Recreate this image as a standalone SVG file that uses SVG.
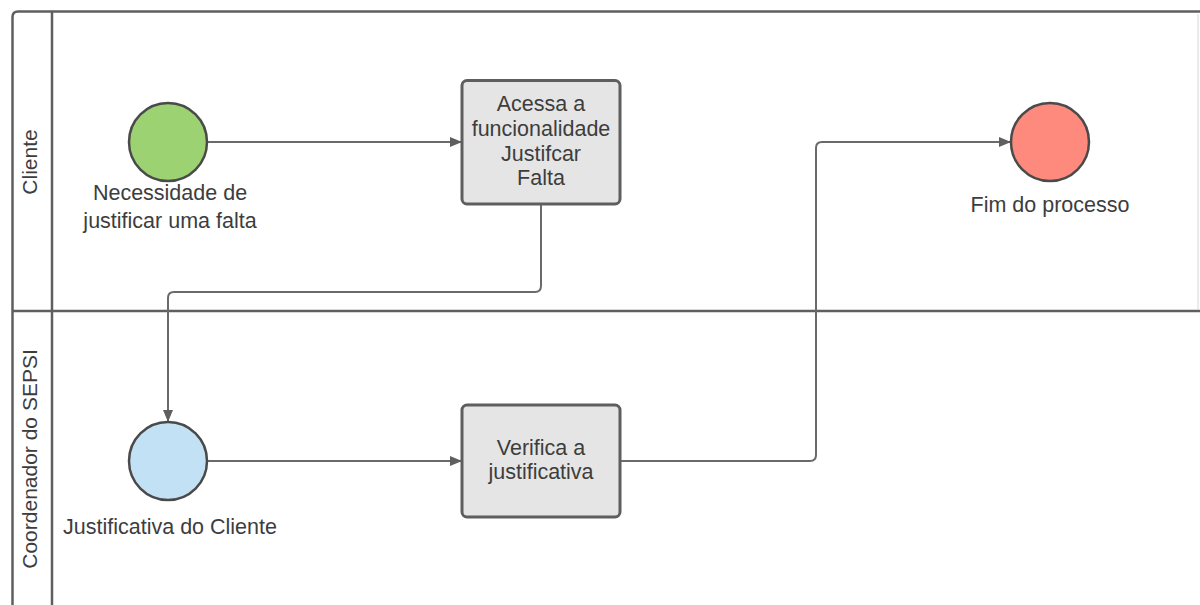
<svg xmlns="http://www.w3.org/2000/svg" width="1200" height="605" viewBox="0 0 1200 605">
<defs>
<style>
.pool{fill:none;stroke:#5f5f5f;stroke-width:2.5}
.lbl{font-family:"Liberation Sans",Arial,sans-serif;font-size:21.5px;fill:#3d3d3d;text-anchor:middle}
.lane{font-size:21px}
.ev{stroke:#4a4a4a;stroke-width:2.5}
.task{fill:#e5e5e5;stroke:#5e5e5e;stroke-width:3}
.conn{fill:none;stroke:#6a6a6a;stroke-width:2}
</style>
<marker id="arr" viewBox="0 0 12 10" refX="11" refY="5" markerWidth="12" markerHeight="10" markerUnits="userSpaceOnUse" orient="auto">
<path d="M0,0 L12,5 L0,10 Z" fill="#5f5f5f"/>
</marker>
</defs>
<rect width="1200" height="605" fill="#ffffff"/>
<g id="pool">
<path class="pool" d="M1200,11.5 H18 Q12.5,11.5 12.5,17 V605"/>
<line class="pool" x1="52" y1="11.5" x2="52" y2="605"/>
<line class="pool" x1="12.5" y1="311" x2="1200" y2="311"/>
<line x1="1198" y1="14" x2="1198" y2="309" stroke="#e4e4e4" stroke-width="1.5"/>
<text class="lbl lane" transform="translate(37,162) rotate(-90)">Cliente</text>
<text class="lbl lane" transform="translate(37,459) rotate(-90)">Coordenador do SEPSI</text>
</g>
<g id="connectors">
<path class="conn" d="M208,142 H461" marker-end="url(#arr)"/>
<path class="conn" d="M541,205 V286 Q541,292 535,292 H174 Q168,292 168,298 V421" marker-end="url(#arr)"/>
<path class="conn" d="M208,461 H461" marker-end="url(#arr)"/>
<path class="conn" d="M621,461 H810 Q816,461 816,455 V148 Q816,142 822,142 H1010" marker-end="url(#arr)"/>
</g>
<g id="start">
<circle class="ev" cx="168" cy="142" r="39" fill="#9cd272"/>
<text class="lbl" x="170" y="199.5">Necessidade de</text>
<text class="lbl" x="170" y="227.5">justificar uma falta</text>
</g>
<g id="task1">
<rect class="task" x="462" y="80.5" width="158" height="123.5" rx="5"/>
<text class="lbl" x="541" y="110.5">Acessa a</text>
<text class="lbl" x="541" y="135.5">funcionalidade</text>
<text class="lbl" x="541" y="160.5">Justifcar</text>
<text class="lbl" x="541" y="184.5">Falta</text>
</g>
<g id="receive">
<circle class="ev" cx="168" cy="461" r="39" fill="#c3e1f4"/>
<text class="lbl" x="170" y="533.5">Justificativa do Cliente</text>
</g>
<g id="task2">
<rect class="task" x="462" y="405" width="158" height="112" rx="5"/>
<text class="lbl" x="541" y="454.5">Verifica a</text>
<text class="lbl" x="541" y="478.5">justificativa</text>
</g>
<g id="end">
<circle class="ev" cx="1050" cy="142" r="39" fill="#fe8a7e"/>
<text class="lbl" x="1050" y="211.5">Fim do processo</text>
</g>
</svg>
